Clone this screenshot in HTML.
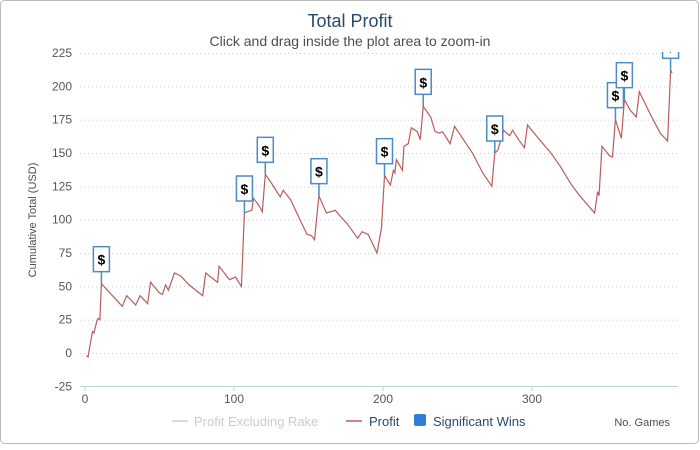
<!DOCTYPE html>
<html><head><meta charset="utf-8"><style>
body{margin:0;background:#fff;font-family:"Liberation Sans","DejaVu Sans",sans-serif}
#wrap{position:relative;width:700px;height:445px}
</style></head><body>
<div id="wrap">
<svg id="c" width="700" height="445" xmlns="http://www.w3.org/2000/svg">
<defs><clipPath id="pc"><rect x="80" y="52" width="600" height="335"/></clipPath></defs>
<rect x="0.5" y="0.5" width="698" height="443" rx="4" fill="#fff" stroke="#bbb"/>
<text x="350" y="27" text-anchor="middle" font-size="18" fill="#274b6d">Total Profit</text>
<text x="350" y="46" text-anchor="middle" font-size="14" fill="#4d4d4d">Click and drag inside the plot area to zoom-in</text>
<text transform="translate(36,220) rotate(-90)" text-anchor="middle" font-size="11" fill="#4d4d4d">Cumulative Total (USD)</text>
<g id="grid"></g><g id="ylab"></g><g id="xlab"></g>
<line x1="80" y1="386.5" x2="678" y2="386.5" stroke="#c0d0e0"/>
<path id="line" fill="none" stroke="#b85c5c" stroke-width="1.2"/>
<g id="flags" clip-path="url(#pc)"></g>
<g>
<g><line x1="172" y1="421" x2="188" y2="421" stroke="#ccc" stroke-width="1.5"/><text x="194" y="426" font-size="13" fill="#ccc">Profit Excluding Rake</text></g>
<g><line x1="346" y1="421" x2="362" y2="421" stroke="#b85c5c" stroke-width="1.5"/><text x="369" y="426" font-size="13" fill="#274b6d">Profit</text></g>
<g><rect x="414" y="414" width="12" height="12" rx="2" fill="#2f7ed8"/><text x="433" y="426" font-size="13" fill="#274b6d">Significant Wins</text></g>
</g>
<text x="670" y="426" text-anchor="end" font-size="11" fill="#4d4d4d">No. Games</text>
</svg></div>
<script>
const games=[1,2,4,5,6,8,9,10,11,25,28,34,37,42,44,50,52,54,56,60,64,70,79,81,89,90,97,101,105,107,109,112,113,116,119,121,126,131,133,138,146,149,152,154,157,162,168,171,176,183,186,190,196,199,201,205,207,208,209,213,214,217,219,223,225,227,232,235,238,240,245,248,254,260,267,273,275,277,281,285,287,291,295,297,305,312,319,326,332,342,344,345,347,352,354,356,360,362,366,370,372,379,386,391,393,394];
const profit=[-2,-3,10,16,15,24,26,25,52,35,43,36,43,37,53,45,44,51,47,60,58,51,43,60,53,65,55,57,50,105,106,107,116,112,106,134,126,117,122,115,96,89,88,85,118,105,107,103,97,86,91,89,75,94,133,126,137,135,145,137,155,157,169,166,160,185,177,166,165,166,157,170,160,150,135,125,150,152,167,163,167,160,154,171,160,151,140,127,118,105,121,118,155,148,147,175,161,190,182,177,196,180,165,159,212,210];
const winGames=[11,107,121,157,201,227,275,356,362,393];
const winValues=[52,105,134,118,133,185,150,175,190,212];
const yTicks=[-25,0,25,50,75,100,125,150,175,200,225];
const xTicks=[0,100,200,300];
const X=g=>85+g*1.49, Y=v=>353-v*1.3333;
const NS="http://www.w3.org/2000/svg";
function mk(t,a,p){const e=document.createElementNS(NS,t);for(const k in a)e.setAttribute(k,a[k]);p.appendChild(e);return e;}
const grid=document.getElementById('grid'),yl=document.getElementById('ylab'),xl=document.getElementById('xlab');
yTicks.forEach(v=>{
 if(v>-25){const l=mk('line',{x1:80,x2:678,y1:Y(v)+0.5,y2:Y(v)+0.5,stroke:'#ccc','stroke-dasharray':'1,3'},grid);
 
 }
 const t=mk('text',{x:72,y:Y(v)+4,'text-anchor':'end','font-size':12,fill:'#555'},yl);t.textContent=v;
 
 
});
xTicks.forEach(g=>{
 const l=mk('line',{x1:X(g),x2:X(g),y1:386,y2:391,stroke:'#c0d0e0'},xl);
 
 
 const t=mk('text',{x:X(g),y:403,'text-anchor':'middle','font-size':12,fill:'#555'},xl);t.textContent=g;
 
 
});
document.getElementById('line').setAttribute('d',games.map((g,i)=>(i?'L':'M')+X(g).toFixed(1)+' '+Y(profit[i]).toFixed(1)).join(''));
const fl=document.getElementById('flags');
winGames.forEach((g,i)=>{
 const x=X(winGames[i]),y=Y(winValues[i]);
 const grp=mk('g',{},fl);
 
 
 mk('line',{x1:x,x2:x,y1:y,y2:y-12,stroke:'#4a8bc8','stroke-width':1.5},grp);
 mk('rect',{x:x-8,y:y-37,width:16,height:25,fill:'#fff',stroke:'#4a8bc8','stroke-width':1.5},grp);
 const t=mk('text',{x:x,y:y-19,'text-anchor':'middle','font-size':14,'font-weight':'bold',fill:'#000'},grp);t.textContent='$';
});
</script>
</body></html>
